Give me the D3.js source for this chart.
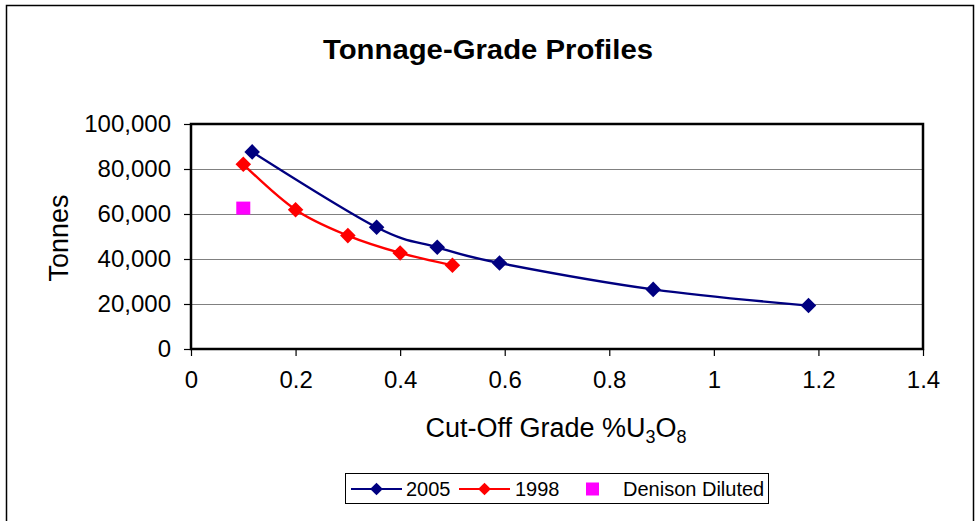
<!DOCTYPE html>
<html>
<head>
<meta charset="utf-8">
<script src="https://cdn.jsdelivr.net/npm/d3@7"></script>
<style>
  body { margin: 0; background: #fff; }
  text { font-family: Arial, "Liberation Sans", sans-serif; fill: #000; }
</style>
</head>
<body>
<script>
// values
let grade2005 = [0.117, 0.355, 0.471, 0.590, 0.884, 1.181];
let tonnes2005 = [87600, 54100, 45200, 38200, 26500, 19300];
let grade1998 = [0.1, 0.2, 0.3, 0.4, 0.5];
let tonnes1998 = [82100, 61900, 50400, 42700, 37200];
let gradeDenison = [0.1];
let tonnesDenison = [62400];
let xTicks = [0, 0.2, 0.4, 0.6, 0.8, 1, 1.2, 1.4];
let yTicks = [0, 20000, 40000, 60000, 80000, 100000];
let seriesNames = ['2005', '1998', 'Denison Diluted'];

let W = 975, H = 521;
let margin = { top: 124, right: 52, bottom: 172, left: 191 };
let width = W - margin.left - margin.right;   // 732
let height = H - margin.top - margin.bottom;  // 225

let svg = d3.select('body').append('svg')
    .attr('width', W)
    .attr('height', H);

// outer chart border
svg.append('rect')
    .attr('x', 6.5).attr('y', 5.5)
    .attr('width', 967).attr('height', 530)
    .attr('fill', '#fff')
    .attr('stroke', '#000')
    .attr('stroke-width', 1.5);

svg.append('text')
    .attr('x', 488).attr('y', 59)
    .attr('text-anchor', 'middle')
    .attr('font-size', 27)
    .attr('font-weight', 'bold')
    .attr('textLength', 330)
    .attr('lengthAdjust', 'spacingAndGlyphs')
    .text('Tonnage-Grade Profiles');

let g = svg.append('g')
    .attr('transform', 'translate(' + margin.left + ',' + margin.top + ')');

let x = d3.scaleLinear().domain([0, 1.4]).range([0, width]);
let y = d3.scaleLinear().domain([0, 100000]).range([height, 0]);

// gridlines
g.selectAll('.grid')
    .data(yTicks.filter(function(d){ return d > 0 && d < 100000; }))
  .enter().append('line')
    .attr('x1', 0).attr('x2', width)
    .attr('y1', function(d){ return Math.round(y(d)) + 0.5; })
    .attr('y2', function(d){ return Math.round(y(d)) + 0.5; })
    .attr('stroke', '#808080')
    .attr('stroke-width', 1);

let xAxis = d3.axisBottom(x).tickValues(xTicks).tickSize(7).tickPadding(15)
    .tickFormat(function(d){ return String(d); });
let yAxis = d3.axisLeft(y).tickValues(yTicks).tickSize(7).tickPadding(13)
    .tickFormat(d3.format(','));

let gx = g.append('g')
    .attr('transform', 'translate(0,' + height + ')')
    .call(xAxis);
let gy = g.append('g').call(yAxis);

[gx, gy].forEach(function(ax){
  ax.select('.domain').remove();
  ax.selectAll('line').attr('stroke', '#000').attr('stroke-width', 1.2);
  ax.selectAll('text')
    .attr('font-size', 24)
    .attr('font-family', 'Arial, "Liberation Sans", sans-serif')
    .attr('fill', '#000');
});

// plot area border
g.append('rect')
    .attr('x', 0).attr('y', 0)
    .attr('width', width).attr('height', height)
    .attr('fill', 'none')
    .attr('stroke', '#000')
    .attr('stroke-width', 2.5);

let line = d3.line()
    .x(function(d){ return x(d[0]); })
    .y(function(d){ return y(d[1]); })
    .curve(d3.curveCatmullRom.alpha(0));

function drawSeries(gr, tn, color) {
  let pts = d3.zip(gr, tn);
  g.append('path')
      .datum(pts)
      .attr('d', line)
      .attr('fill', 'none')
      .attr('stroke', color)
      .attr('stroke-width', 2.4);
  g.selectAll(null)
      .data(pts)
    .enter().append('rect')
      .attr('x', -5.5).attr('y', -5.5)
      .attr('width', 11).attr('height', 11)
      .attr('transform', function(d){
        return 'translate(' + x(d[0]) + ',' + y(d[1]) + ') rotate(45)';
      })
      .attr('fill', color);
}

drawSeries(grade2005, tonnes2005, '#000080');
drawSeries(grade1998, tonnes1998, '#ff0000');

g.selectAll(null)
    .data(d3.zip(gradeDenison, tonnesDenison))
  .enter().append('rect')
    .attr('x', function(d){ return x(d[0]) - 7; })
    .attr('y', function(d){ return y(d[1]) - 7; })
    .attr('width', 14).attr('height', 13)
    .attr('fill', '#ff00ff');

// axis titles
svg.append('text')
    .attr('transform', 'translate(68,238) rotate(-90)')
    .attr('text-anchor', 'middle')
    .attr('font-size', 27)
    .text('Tonnes');

let xt = svg.append('text')
    .attr('x', 556).attr('y', 437)
    .attr('text-anchor', 'middle')
    .attr('font-size', 27);
xt.append('tspan').text('Cut-Off Grade %U');
xt.append('tspan').attr('font-size', 18).attr('dy', 6).text('3');
xt.append('tspan').attr('dy', -6).text('O');
xt.append('tspan').attr('font-size', 18).attr('dy', 6).text('8');

// legend
let lg = svg.append('g');
lg.append('rect')
    .attr('x', 345.5).attr('y', 473.5)
    .attr('width', 423).attr('height', 30)
    .attr('fill', '#fff')
    .attr('stroke', '#000')
    .attr('stroke-width', 1);

let legendItems = [
  { name: seriesNames[0], color: '#000080', lx: 351, tx: 406, kind: 'line' },
  { name: seriesNames[1], color: '#ff0000', lx: 459, tx: 515, kind: 'line' },
  { name: seriesNames[2], color: '#ff00ff', lx: 586, tx: 623, kind: 'square' }
];
let ly = 489;
legendItems.forEach(function(it){
  if (it.kind === 'line') {
    lg.append('line')
        .attr('x1', it.lx).attr('x2', it.lx + 51)
        .attr('y1', ly).attr('y2', ly)
        .attr('stroke', it.color).attr('stroke-width', 2.2);
    lg.append('rect')
        .attr('x', -4.5).attr('y', -4.5)
        .attr('width', 9).attr('height', 9)
        .attr('transform', 'translate(' + (it.lx + 25.5) + ',' + ly + ') rotate(45)')
        .attr('fill', it.color);
  } else {
    lg.append('rect')
        .attr('x', it.lx).attr('y', ly - 6.5)
        .attr('width', 13).attr('height', 13)
        .attr('fill', it.color);
  }
  lg.append('text')
      .attr('x', it.tx).attr('y', ly + 7)
      .attr('font-size', 20)
      .text(it.name);
});
</script>
</body>
</html>
